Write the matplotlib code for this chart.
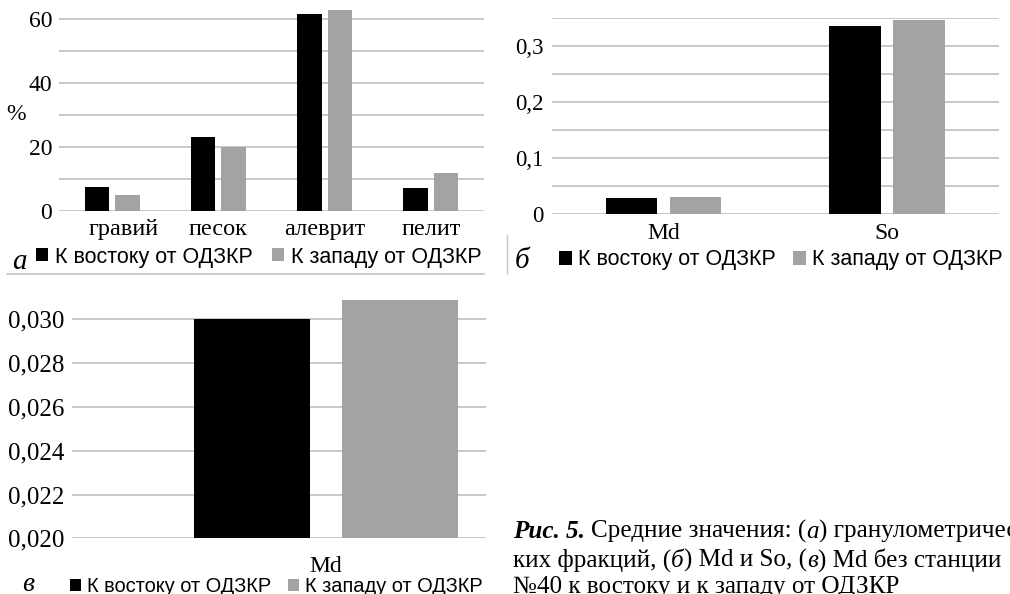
import numpy as np
import matplotlib
matplotlib.use("Agg")
import matplotlib.pyplot as plt
import matplotlib.transforms as mtransforms
from matplotlib.patches import Patch
from matplotlib.font_manager import FontProperties
from matplotlib.lines import Line2D

W, H = 1010, 594

# data
a_cats = ["гравий", "песок", "алеврит", "пелит"]
a_east = [7.5, 23.2, 61.6, 7.0]
a_west = [4.9, 20.0, 62.8, 11.9]
a_ticks = [0, 20, 40, 60]

b_cats = ["Md", "So"]
b_east = [0.030, 0.337]
b_west = [0.031, 0.347]
b_ticks = [0, 0.1, 0.2, 0.3]
b_ticklabels = ["0", "0,1", "0,2", "0,3"]

c_cats = ["Md"]
c_east = [0.030]
c_west = [0.0309]
c_ticks = [0.020, 0.022, 0.024, 0.026, 0.028, 0.030]
c_ticklabels = ["0,020", "0,022", "0,024", "0,026", "0,028", "0,030"]

east_lbl = "К востоку от ОДЗКР"
west_lbl = "К западу от ОДЗКР"

BLACK = "#000000"
GRAY = "#a3a3a3"
GRID = "#c4c4c4"
SERIF = ["Liberation Serif", "DejaVu Serif"]
SANS = ["Liberation Sans", "DejaVu Sans"]


def px_axes(fig, left, top, right, bottom):
    # pixel box (y measured from top) -> figure axes
    return fig.add_axes([left / W, 1 - bottom / H, (right - left) / W, (bottom - top) / H])


def style_axes(ax, tick_size, cat_size, pad_x, pad_y=5):
    for s in ax.spines.values():
        s.set_visible(False)
    ax.set_axisbelow(True)
    ax.yaxis.grid(True, which="both", color=GRID, lw=1.3)
    ax.tick_params(axis="both", which="both", length=0)
    ax.tick_params(axis="y", pad=pad_y, labelsize=tick_size)
    ax.tick_params(axis="x", pad=pad_x, labelsize=cat_size)
    for lb in ax.get_xticklabels() + ax.get_yticklabels():
        lb.set_family(SERIF)


def add_legend(fig, ax, x, y, size, hl, tp, cs):
    handles = [Patch(facecolor=BLACK, edgecolor="none"), Patch(facecolor=GRAY, edgecolor="none")]
    ax.legend(handles, [east_lbl, west_lbl], loc="center left", bbox_to_anchor=(x / W, 1 - y / H),
              bbox_transform=fig.transFigure, ncol=2, frameon=False,
              prop=FontProperties(family=SANS, size=size), handlelength=hl, handleheight=hl,
              handletextpad=tp, columnspacing=cs, borderpad=0, borderaxespad=0)


fig = plt.figure(figsize=(W / 100, H / 100), dpi=100)

# panel a
ax = px_axes(fig, 59, 3.0, 484, 210.7)
x = np.arange(len(a_cats))
ax.bar(x - 0.143, a_east, 0.23, color=BLACK)
ax.bar(x + 0.143, a_west, 0.23, color=GRAY)
ax.set_xlim(-0.5, len(a_cats) - 0.5)
ax.set_ylim(0, 65)
ax.set_yticks(a_ticks)
ax.set_yticks([10, 30, 50], minor=True)
ax.set_xticks(x)
ax.set_xticklabels(a_cats)
style_axes(ax, 17, 17.5, 6)
# the first category label sits a little to the right in the original
lb0 = ax.get_xticklabels()[0]
lb0.set_transform(lb0.get_transform() + mtransforms.ScaledTranslation(0.12, 0, fig.dpi_scale_trans))
fig.text(6 / W, 1 - 114 / H, "%", family=SERIF, fontsize=17, va="center")
add_legend(fig, ax, 36, 257, 15.5, 0.56, 0.33, 0.88)
fig.text(12 / W, 1 - 269 / H, "а", family=SERIF, style="italic", fontsize=21, va="baseline")

# panel b
ax = px_axes(fig, 551.7, 18.3, 999, 214.3)
x = np.arange(len(b_cats))
ax.bar(x - 0.143, b_east, 0.23, color=BLACK)
ax.bar(x + 0.143, b_west, 0.23, color=GRAY)
ax.set_xlim(-0.5, len(b_cats) - 0.5)
ax.set_ylim(0, 0.35)
ax.set_yticks(b_ticks)
ax.set_yticklabels(b_ticklabels)
ax.set_yticks([0.05, 0.15, 0.25, 0.35], minor=True)
ax.set_xticks(x)
ax.set_xticklabels(b_cats)
style_axes(ax, 16.5, 17, 6, 6)
add_legend(fig, ax, 559, 260, 15.5, 0.6, 0.28, 0.79)
fig.text(515 / W, 1 - 268 / H, "б", family=SERIF, style="italic", fontsize=21, va="baseline")

# panel c
ax = px_axes(fig, 71.7, 299.6, 485.7, 538.3)
x = np.arange(len(c_cats))
ax.bar(x - 0.178, c_east, 0.28, color=BLACK)
ax.bar(x + 0.178, c_west, 0.28, color=GRAY)
ax.set_xlim(-0.614, 0.386)
ax.set_ylim(0.020, 0.0309)
ax.set_yticks(c_ticks)
ax.set_yticklabels(c_ticklabels)
ax.set_xticks(x)
ax.set_xticklabels(c_cats)
style_axes(ax, 18, 17, 13, 5)
add_legend(fig, ax, 70, 586.5, 14.4, 0.55, 0.3, 0.85)
fig.text(22 / W, 1 - 591 / H, "в", family=SERIF, style="italic", fontsize=20, va="baseline")

# thin frame remnants
fig.add_artist(Line2D([7 / W, 484 / W], [1 - 274 / H, 1 - 274 / H], color=GRID, lw=1.2))
fig.add_artist(Line2D([507 / W, 507 / W], [1 - 235 / H, 1 - 273 / H], color=GRID, lw=1.0))

# caption with mixed styles
fig.canvas.draw()
rend = fig.canvas.get_renderer()
CAP = 18.1


def measure(s, **kw):
    t = fig.text(0, 0, s, family=SERIF, fontsize=CAP, **kw)
    w = t.get_window_extent(rend).width
    t.remove()
    return w


space = measure("н н") - measure("нн")
REG = {}
IT = {"style": "italic"}
BI = {"style": "italic", "weight": "bold"}
lines = [
    (538, [("Рис. 5.", BI), (None, None), ("Средние значения: (", REG), ("а", IT), (") гранулометричес", REG)]),
    (567, [("ких фракций, (", REG), ("б", IT), (") Md и So, (", REG), ("в", IT), (") Md без станции", REG)]),
    (593, [("№40 к востоку и к западу от ОДЗКР", REG)]),
]
for yb, pieces in lines:
    xp = 513
    for s, kw in pieces:
        if s is None:
            xp += space
            continue
        t = fig.text(xp / W, 1 - yb / H, s, family=SERIF, fontsize=CAP, va="baseline", **kw)
        xp += t.get_window_extent(rend).width

fig.savefig("out.png", dpi=100)
